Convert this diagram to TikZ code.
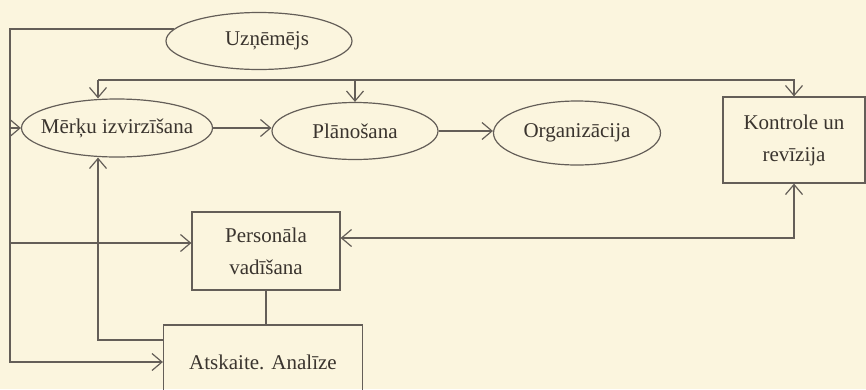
\documentclass[tikz,border=0pt]{standalone}
\usepackage{fontspec}
\setmainfont{Liberation Serif}
\usetikzlibrary{shapes.geometric,arrows.meta}
\definecolor{paper}{RGB}{251,245,222}
\definecolor{ink}{RGB}{100,94,88}
\definecolor{txt}{RGB}{58,52,46}
\tikzset{
  x=1pt, y=-1pt,
  every node/.style={font=\fontsize{21}{32}\selectfont, text=txt, inner sep=0pt},
  oval/.style={ellipse, draw=ink, line width=1.2pt, inner xsep=-12pt},
  boxnode/.style={rectangle, draw=ink, line width=1.2pt, align=center},
  link/.style={draw=ink, line width=1.2pt},
  arr/.style={link, -{Straight Barb[length=10pt,width=17pt,line width=1.2pt]}},
  dblarr/.style={link, {Straight Barb[length=10pt,width=17pt,line width=1.2pt]}-{Straight Barb[length=10pt,width=17pt,line width=1.2pt]}},
}
\begin{document}
\begin{tikzpicture}
  \fill[paper] (0,0) rectangle (866,389);
  \useasboundingbox (0,0) rectangle (866,389);
  \clip (0,0) rectangle (866,389);

  % process stages
  \node[oval, minimum width=186pt, minimum height=57pt] (uz) at (259,41) {\hspace*{16pt}Uzņēmējs};
  \node[oval, minimum width=191pt, minimum height=58pt] (mk) at (117,128) {Mērķu izvirzīšana};
  \node[oval, minimum width=166pt, minimum height=57pt] (pl) at (355,131) {Plānošana};
  \node[oval, minimum width=167pt, minimum height=64pt] (org) at (577,133) {Organizācija};
  \node[boxnode, minimum width=142pt, minimum height=86pt] (ko) at (794,140) {Kontrole un\\revīzija};
  \node[boxnode, minimum width=148pt, minimum height=78pt] (pv) at (266,251) {Personāla\\vadīšana};
  \node[boxnode, minimum width=199pt, minimum height=74pt] (at) at (263,362) {Atskaite. Analīze};

  % helper points for the outer feedback lines
  \coordinate (lx) at (10,0);
  \coordinate (tl) at (98,80);

  % owner line down the left side
  \draw[arr] (uz.172) -| (lx |- at.west) -- (at.west);
  \draw[arr] (lx |- mk.west) -- (mk.west);
  \draw[arr] (lx |- 0,243) -- ([yshift=8pt]pv.west);

  % top distribution line
  \draw[arr] (tl) -- (tl |- mk.north);
  \draw[arr] (pl.north |- tl) -- (pl.north);
  \draw[arr] (tl) -| (ko.north);

  % main sequence
  \draw[arr] (mk.east) -- (mk.east -| pl.west);
  \draw[arr] (pl.east) -- (pl.east -| org.west);

  % control and staff
  \draw[dblarr] ([yshift=13pt]pv.east) -| (ko.south);
  \draw[link] (pv.south) -- (pv.south |- at.north);

  % report back to goal setting
  \draw[arr] ([yshift=22pt]at.west) -| (tl |- mk.south);
\end{tikzpicture}
\end{document}
